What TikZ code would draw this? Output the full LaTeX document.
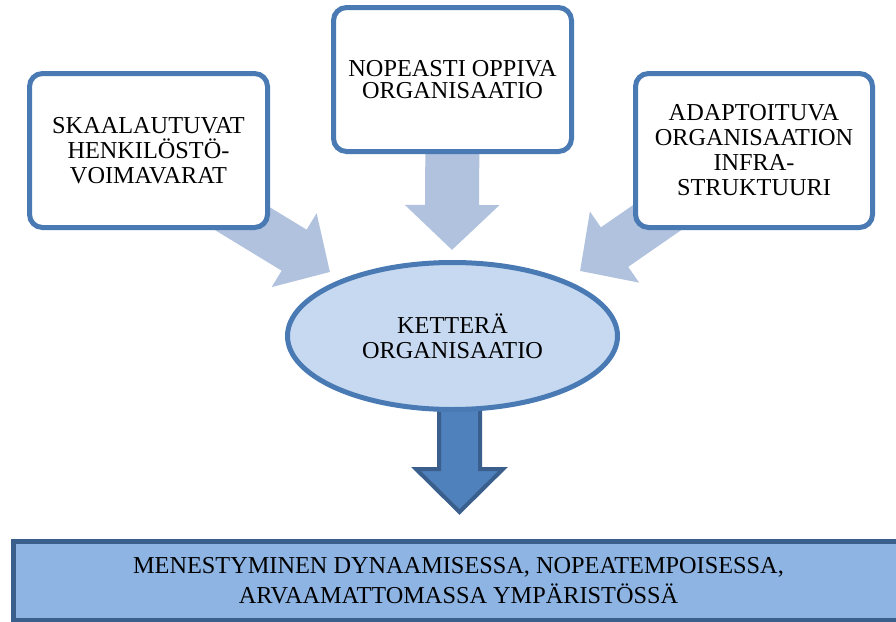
\documentclass[tikz,border=0pt]{standalone}
\usepackage{fontspec}
\setmainfont{Liberation Serif}
\usetikzlibrary{arrows.meta,shapes.geometric,backgrounds}
\definecolor{boxline}{RGB}{74,122,180}
\definecolor{greyarrow}{RGB}{176,194,222}
\definecolor{ovalfill}{RGB}{198,217,240}
\definecolor{basefill}{RGB}{142,180,227}
\definecolor{baseline}{RGB}{58,95,140}
\definecolor{downfill}{RGB}{79,129,189}
\tikzset{
  box/.style={draw=boxline,line width=5pt,rounded corners=13pt,fill=white,
    align=center,inner sep=0pt,font=\fontsize{24.3}{25}\selectfont},
  fatarrow/.style={draw=greyarrow,line width=48pt,
    -{Triangle[length=42pt,width=84pt]}}
}
\begin{document}
\begin{tikzpicture}[x=1pt,y=-1pt]
\useasboundingbox (0,0) rectangle (896,621);
\clip (0,0) rectangle (896,621);
% the three sources
\node[box,minimum width=238pt,minimum height=154pt] (skaala) at (148.5,150.5)
  {SKAALAUTUVAT\\HENKILÖSTÖ-\\VOIMAVARAT};
\node[box,minimum width=238pt,minimum height=144pt,
  font=\fontsize{24.3}{22.5}\selectfont] (nopea) at (452.5,79.5)
  {NOPEASTI OPPIVA\\ORGANISAATIO};
\node[box,minimum width=237pt,minimum height=154pt] (adapt) at (754,150.5)
  {ADAPTOITUVA\\ORGANISAATION\\INFRA-\\STRUKTUURI};
% centre
\node[ellipse,draw=boxline,line width=5pt,fill=ovalfill,inner sep=0pt,
  minimum width=330pt,minimum height=147pt,align=center,
  font=\fontsize{24.3}{25}\selectfont] (kettera) at (452.5,336)
  {KETTERÄ\\ORGANISAATIO};
% result
\node[draw=baseline,line width=5pt,fill=basefill,inner sep=0pt,
  minimum width=890pt,minimum height=79pt,align=center,
  font=\fontsize{24.3}{30}\selectfont] (menestys) at (458.5,581)
  {MENESTYMINEN DYNAAMISESSA, NOPEATEMPOISESSA,\\ARVAAMATTOMASSA YMPÄRISTÖSSÄ};
\coordinate (tipL) at (330,272);
\coordinate (tipM) at (452,250);
\coordinate (tipR) at (580,271);
\begin{scope}[on background layer]
\draw[fatarrow] ([yshift=-11pt]skaala.center) -- (tipL);
\draw[fatarrow,line width=54pt,-{Triangle[length=45pt,width=92pt]}]
  (nopea.center) -- (tipM);
\draw[fatarrow] (adapt.center) -- (tipR);
\draw[draw=baseline,fill=downfill,line width=4pt,line join=miter]
  (439,400) -- (439,469) -- (416,469) -- (459.5,512) -- (503,469)
  -- (480,469) -- (480,400) -- cycle;
\end{scope}
\end{tikzpicture}
\end{document}
